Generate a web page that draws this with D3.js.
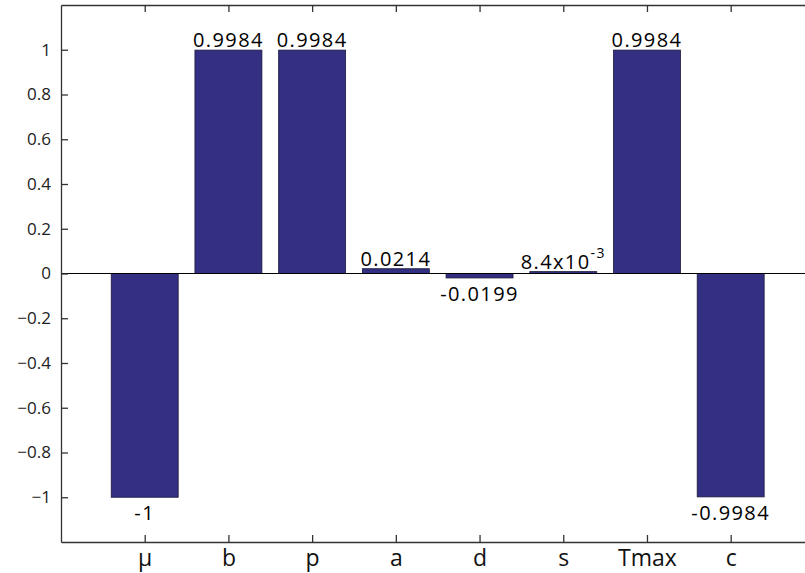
<!DOCTYPE html>
<html>
<head>
<meta charset="utf-8">
<script src="https://cdn.jsdelivr.net/npm/d3@7"></script>
<style>
  body { margin: 0; background: #fff; }
  svg { display: block; font-family: "Open Sans", sans-serif; }
</style>
</head>
<body>
<svg id="chart" width="805" height="573"></svg>
<script>
// chart data
var categories = ['\u03bc', 'b', 'p', 'a', 'd', 's', 'Tmax', 'c'];
var values = [-1, 0.9984, 0.9984, 0.0214, -0.0199, 0.0084, 0.9984, -0.9984];
var barLabels = ['-1', '0.9984', '0.9984', '0.0214', '-0.0199', '8.4x10', '0.9984', '-0.9984'];
var barSup = ['', '', '', '', '', '-3', '', ''];
var yTicks = [-1, -0.8, -0.6, -0.4, -0.2, 0, 0.2, 0.4, 0.6, 0.8, 1];
var yTickLabels = ['\u22121', '\u22120.8', '\u22120.6', '\u22120.4', '\u22120.2', '0', '0.2', '0.4', '0.6', '0.8', '1'];

var svg = d3.select('#chart');
var mLeft = 61, mTop = 5, mBottom = 542, step = 83.71;

// x runs 0..9 in category units, the right edge falls outside the picture
var x = d3.scaleLinear().domain([0, 9]).range([mLeft, mLeft + 9 * step]);
var y = d3.scaleLinear().domain([-1.2, 1.2]).range([mBottom, mTop]);
var barW = 0.8;

// bars
svg.append('g').selectAll('rect')
  .data(values)
  .enter().append('rect')
  .attr('x', function(d, i) { return x(i + 1 - barW / 2); })
  .attr('width', x(barW) - x(0))
  .attr('y', function(d) { return y(Math.max(d, 0)); })
  .attr('height', function(d) { return Math.abs(y(d) - y(0)); })
  .attr('fill', '#332f82')
  .attr('stroke', '#1a1a3a')
  .attr('stroke-width', 0.8);

// zero line
svg.append('line')
  .attr('x1', x(0)).attr('x2', x(9))
  .attr('y1', y(0)).attr('y2', y(0))
  .attr('stroke', '#000').attr('stroke-width', 1);

// bar value labels
var lab = svg.append('g').selectAll('text')
  .data(values)
  .enter().append('text')
  .attr('x', function(d, i) { return x(i + 1); })
  .attr('y', function(d) { return d >= 0 ? y(d) - 3 : y(d) + 23; })
  .attr('text-anchor', 'middle')
  .attr('font-size', 20)
  .attr('letter-spacing', 1.4)
  .attr('fill', '#000');
lab.append('tspan').text(function(d, i) { return barLabels[i]; });
lab.append('tspan')
  .attr('dy', -11)
  .attr('font-size', 14)
  .text(function(d, i) { return barSup[i]; });

// axes
var tickColor = '#333';
var yAxis = d3.axisLeft(y)
  .tickValues(yTicks)
  .tickFormat(function(d, i) { return yTickLabels[i]; })
  .tickSizeInner(-7).tickSizeOuter(0).tickPadding(10);
var gy = svg.append('g').attr('transform', 'translate(' + mLeft + ',0)').call(yAxis);
gy.selectAll('text').attr('font-size', 17).attr('font-family', '"Open Sans", sans-serif').attr('fill', '#222');

var xAxis = d3.axisBottom(x)
  .tickValues(d3.range(1, 9))
  .tickFormat(function(d) { return categories[d - 1]; })
  .tickSizeInner(-7).tickSizeOuter(0).tickPadding(8);
var gx = svg.append('g').attr('transform', 'translate(0,' + mBottom + ')').call(xAxis);
gx.selectAll('text').attr('font-size', 23).attr('font-family', '"Open Sans", sans-serif').attr('fill', '#111');

var xTop = d3.axisTop(x).tickValues(d3.range(1, 9)).tickFormat('')
  .tickSizeInner(-7).tickSizeOuter(0);
svg.append('g').attr('transform', 'translate(0,' + mTop + ')').call(xTop);

var yRight = d3.axisRight(y).tickValues(yTicks).tickFormat('')
  .tickSizeInner(-7).tickSizeOuter(0);
svg.append('g').attr('transform', 'translate(' + x(9) + ',0)').call(yRight);

svg.selectAll('.domain, .tick line').attr('stroke', tickColor).attr('stroke-width', 1.3);
</script>
</body>
</html>
